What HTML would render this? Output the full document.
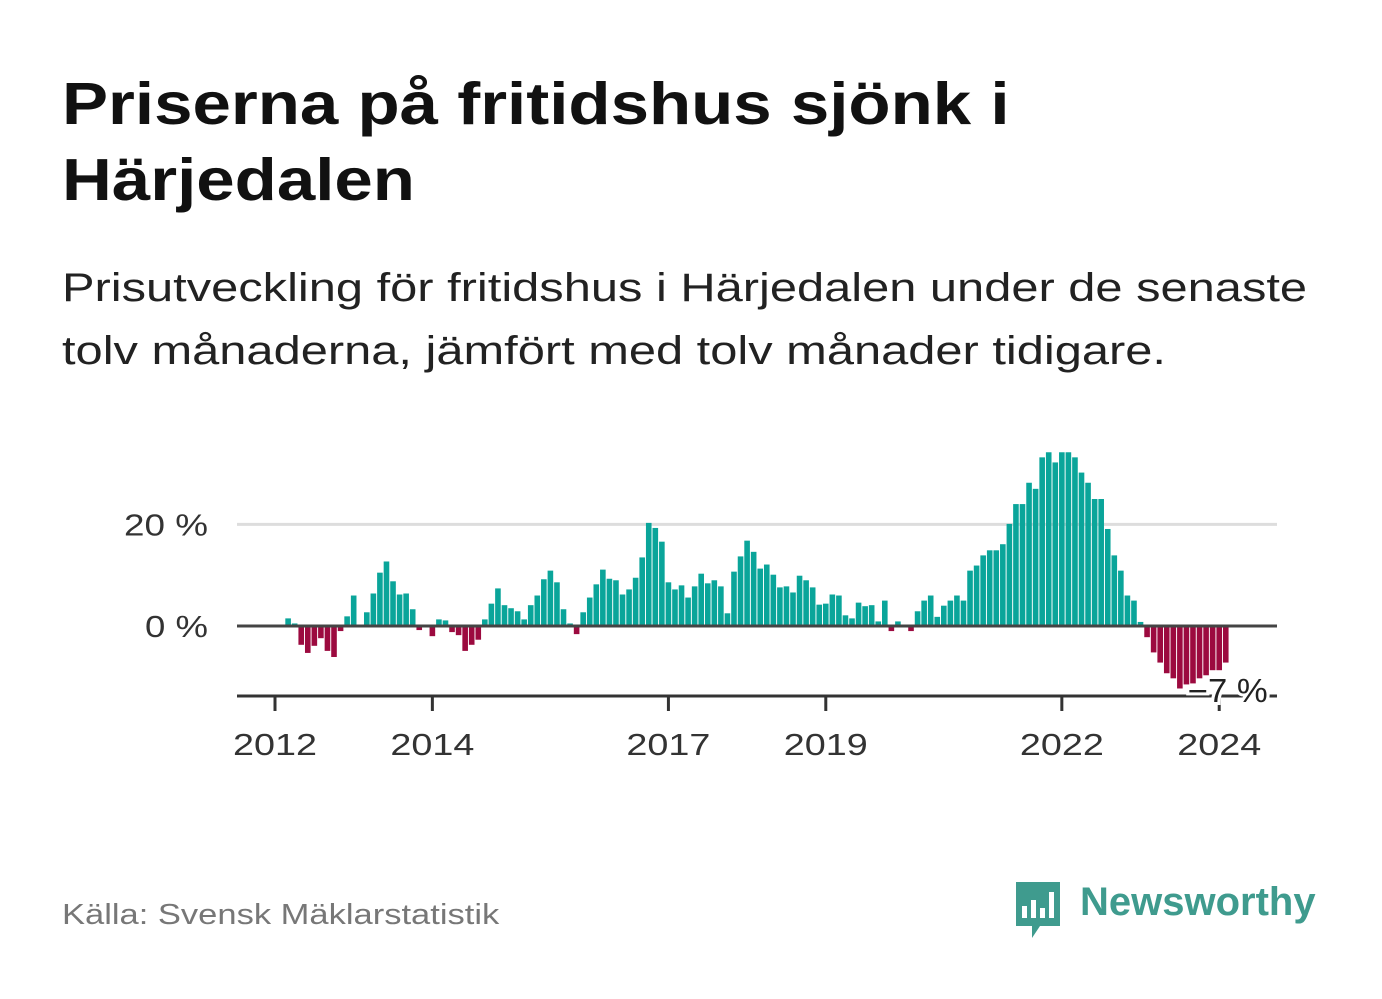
<!DOCTYPE html>
<html><head><meta charset="utf-8">
<style>
body{margin:0;background:#fff;width:1382px;height:999px;overflow:hidden;font-family:"Liberation Sans",sans-serif;position:relative}
.t{position:absolute;left:62px;margin:0;transform-origin:0 0;white-space:nowrap}
</style></head><body>
<h1 class="t" style="top:66px;font-size:59px;line-height:76px;font-weight:bold;color:#111;transform:scaleX(1.17)">Priserna på fritidshus sjönk i<br>Härjedalen</h1>
<p class="t" style="top:257px;font-size:40px;line-height:63px;color:#222;transform:scaleX(1.22)">Prisutveckling för fritidshus i Härjedalen under de senaste<br>tolv månaderna, jämfört med tolv månader tidigare.</p>
<svg id="chart" width="1382" height="999" style="position:absolute;left:0;top:0"></svg>
<div class="t" style="top:899px;font-size:29px;color:#777;transform:scaleX(1.19)">Källa: Svensk Mäklarstatistik</div>
<div style="position:absolute;left:1012px;top:880px;width:320px;height:60px">
<svg width="52" height="60" style="position:absolute;left:0;top:0"><path d="M4 2h44v44H28l-8 12v-12H4z" fill="#3f9b8e"/><rect x="10" y="26" width="5" height="12" fill="#fff"/><rect x="19" y="20" width="5" height="18" fill="#fff"/><rect x="28" y="28" width="5" height="10" fill="#fff"/><rect x="37" y="12" width="5" height="26" fill="#fff"/></svg>
<span style="position:absolute;left:68px;top:0px;font-size:40px;font-weight:bold;color:#3f9b8e">Newsworthy</span></div>
<script>
const values=[1.5,0.5,-3.7,-5.3,-3.9,-2.4,-4.9,-6.1,-1.0,1.9,6.0,0,2.7,6.4,10.5,12.7,8.8,6.2,6.4,3.3,-0.8,0,-2.0,1.3,1.1,-1.2,-1.8,-4.9,-3.7,-2.7,1.3,4.4,7.4,4.1,3.5,2.9,1.3,4.1,6.0,9.2,10.9,8.6,3.3,0.5,-1.6,2.7,5.6,8.2,11.1,9.3,9.0,6.2,7.2,9.5,13.5,20.3,19.3,16.6,8.6,7.2,8.0,5.6,7.8,10.3,8.4,9.0,7.8,2.5,10.7,13.7,16.8,14.6,11.3,12.1,10.1,7.6,7.8,6.6,9.9,9.0,7.6,4.2,4.4,6.2,6.0,2.1,1.5,4.6,3.9,4.1,0.9,5.0,-1.0,0.9,0,-1.0,2.9,5.0,6.0,1.8,4.0,5.0,6.0,5.0,10.9,11.9,13.9,14.9,14.9,16.1,20.1,24.0,24.0,28.2,27.0,33.2,34.2,32.2,34.2,34.2,33.2,30.2,28.2,25.0,25.0,19.1,13.9,10.9,6.0,5.0,0.8,-2.2,-5.2,-7.2,-9.3,-10.3,-12.3,-11.5,-11.3,-10.3,-9.7,-8.7,-8.7,-7.2];
const startMonth=2; // March 2012, months since Jan 2012
const yearTicks=[2012,2014,2017,2019,2022,2024];
const yTicks=[0,20];
const lastLabel="−7 %";
const NS="http://www.w3.org/2000/svg";
const svg=document.getElementById('chart');
const x=m=>275+m*6.557;
const y=v=>626-v*5.08;
function mk(t,a){const e=document.createElementNS(NS,t);for(const k in a)e.setAttribute(k,a[k]);svg.appendChild(e);return e;}
yTicks.forEach(v=>{
 if(v!==0){const g=mk('line',{x1:237,x2:1277,y1:y(v),y2:y(v),stroke:'#ddd','stroke-width':3});
 
 }
 const s=v+' %';
 const t=mk('text',{x:208,y:y(v)+11,'text-anchor':'end','font-size':31,fill:'#333','font-family':'Liberation Sans, sans-serif',textLength:s.length*21,lengthAdjust:'spacingAndGlyphs'});
 t.textContent=s;
 
 
});
values.forEach((v,i)=>{
 const cx=x(startMonth+i);
 const r=mk('rect',{x:cx-2.8,width:5.6,y:v>=0?y(v):y(0),height:Math.abs(y(v)-y(0)),fill:v>=0?'#0aa59a':'#9c0a3f'});
 
 
});
const z=mk('line',{x1:237,x2:1277,y1:y(0),y2:y(0),stroke:'#444','stroke-width':3});


const ax=mk('line',{x1:237,x2:1277,y1:696,y2:696,stroke:'#333','stroke-width':3});


yearTicks.forEach(yr=>{
 const px=x((yr-2012)*12);
 const tk=mk('line',{x1:px,x2:px,y1:696,y2:711,stroke:'#333','stroke-width':3});
 
 
 const t=mk('text',{x:px,y:755,'text-anchor':'middle','font-size':31,fill:'#333','font-family':'Liberation Sans, sans-serif',textLength:84,lengthAdjust:'spacingAndGlyphs'});
 t.textContent=yr;
 
 
});
const lx=x(startMonth+values.length-1)+2;
const lb=mk('text',{x:lx,y:702,'text-anchor':'middle','font-size':33,fill:'#222',stroke:'#fff','stroke-width':6,'paint-order':'stroke','font-family':'Liberation Sans, sans-serif',textLength:80,lengthAdjust:'spacingAndGlyphs'});
lb.textContent=lastLabel;


</script>
</body></html>
